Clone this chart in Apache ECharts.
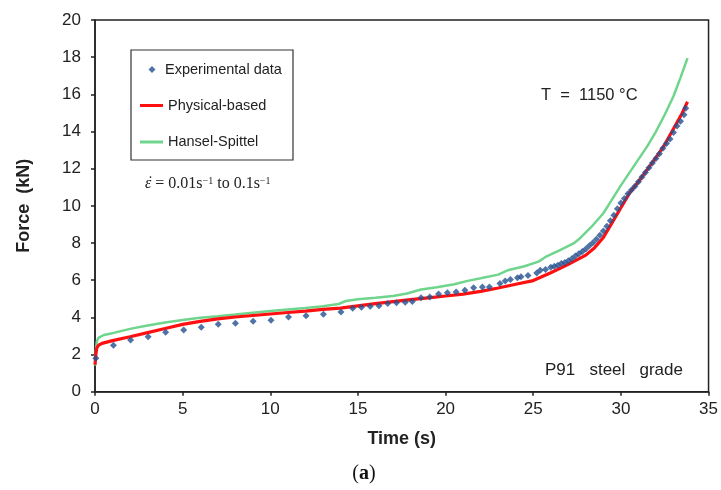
<!DOCTYPE html>
<html>
<head>
<meta charset="utf-8">
<script src="https://cdn.jsdelivr.net/npm/echarts@6/dist/echarts.min.js"></script>
<style>html,body{margin:0;padding:0;background:#fff}#chart{width:721px;height:490px}</style>
</head>
<body>
<div id="chart"></div>
<script>
// Experimental data (time s, force kN)
const expTime = [0.05,1.05,2.03,3.03,4.03,5.06,6.06,7.03,8.01,9.02,10.04,11.04,12.04,13.03,14.03,14.7,15.2,15.7,16.2,16.7,17.2,17.7,18.1,18.6,19.1,19.6,20.1,20.6,21.1,21.6,22.1,22.5,23.1,23.4,23.7,24.1,24.3,24.7,25.2,25.4,25.7,26.0,26.2,26.4,26.6,26.8,27.0,27.2,27.4,27.6,27.8,28.0,28.2,28.4,28.6,28.8,29.0,29.2,29.4,29.6,29.8,30.0,30.2,30.4,30.6,30.8,31.0,31.2,31.4,31.6,31.8,32.0,32.2,32.4,32.6,32.8,33.0,33.2,33.4,33.6,33.7];
const expForce = [1.8,2.5,2.78,2.96,3.2,3.32,3.47,3.63,3.68,3.79,3.84,4.02,4.08,4.17,4.29,4.49,4.54,4.6,4.63,4.74,4.78,4.81,4.85,5.05,5.1,5.26,5.32,5.37,5.46,5.59,5.64,5.64,5.82,5.95,6.04,6.13,6.18,6.25,6.39,6.54,6.57,6.7,6.75,6.8,6.9,6.95,7.05,7.15,7.3,7.42,7.55,7.68,7.85,8.02,8.2,8.42,8.65,8.9,9.2,9.5,9.85,10.15,10.4,10.65,10.85,11.05,11.3,11.55,11.8,12.05,12.3,12.55,12.8,13.1,13.35,13.6,13.95,14.3,14.55,14.9,15.25];

// Physical-based model
const physTime = [0,0.05,0.1,0.2,0.4,1,2,3,4,5,6,7,8,9,10,11,12,13,14,15,16,17,18,19,20,21,22,23,24,25,26,27,28,28.5,29,29.5,30,30.5,31,31.5,32,32.5,33,33.5,33.8];
const physForce = [1.45,2.0,2.35,2.5,2.6,2.75,2.96,3.18,3.4,3.62,3.78,3.92,4.02,4.1,4.18,4.26,4.34,4.43,4.5,4.62,4.74,4.85,4.95,5.05,5.15,5.25,5.4,5.58,5.78,5.98,6.4,6.85,7.35,7.75,8.3,9.1,9.9,10.7,11.3,11.95,12.6,13.3,14.15,15.0,15.6];

// Hansel-Spittel model
const hsTime = [0,0.05,0.1,0.2,0.5,1,2,3,4,5,6,7,8,9,10,11,12,13,13.9,14.3,15,16,17,17.8,18.6,19.5,20.5,21.2,22,23,23.6,24.5,25.3,25.7,26.5,27.3,27.6,28.3,29,29.5,30,30.5,31,31.5,32,32.5,33,33.4,33.8];
const hsForce = [1.4,2.2,2.7,2.9,3.05,3.15,3.38,3.56,3.72,3.86,3.98,4.06,4.15,4.25,4.34,4.42,4.5,4.6,4.72,4.88,4.98,5.06,5.15,5.28,5.5,5.62,5.78,5.95,6.1,6.3,6.55,6.75,7.0,7.25,7.6,7.98,8.2,8.85,9.6,10.35,11.1,11.8,12.5,13.2,14.0,14.9,15.9,16.9,17.95];

const seriesNames = ['Experimental data','Physical-based','Hansel-Spittel'];
const xTicks = {min:0, max:35, step:5};
const yTicks = {min:0, max:20, step:2};

const zip = (a,b) => a.map((v,i) => [v, b[i]]);
const chart = echarts.init(document.getElementById('chart'), null, {renderer:'canvas'});
const txt = '#222';
const legendText = {fontFamily:'Liberation Sans, Arial', fontSize:14.5, color:txt};

chart.setOption({
  animation:false,
  backgroundColor:'#fff',
  grid:{left:95, right:10, top:20, bottom:98.3, show:true, borderColor:'#222', borderWidth:1.5, backgroundColor:'transparent'},
  xAxis:{type:'value', min:xTicks.min, max:xTicks.max, interval:xTicks.step,
    name:'Time (s)', nameLocation:'middle', nameGap:38,
    nameTextStyle:{fontFamily:'Liberation Sans, Arial', fontWeight:'bold', fontSize:18, color:txt},
    axisLine:{show:true, lineStyle:{color:'#222', width:1.5}},
    axisTick:{show:true, inside:false, length:4, lineStyle:{color:'#222', width:1.5}},
    axisLabel:{margin:9, fontFamily:'Liberation Sans, Arial', fontSize:17, color:txt},
    splitLine:{show:false}},
  yAxis:{type:'value', min:yTicks.min, max:yTicks.max, interval:yTicks.step,
    name:'Force  (kN)', nameLocation:'middle', nameGap:62,
    nameTextStyle:{fontFamily:'Liberation Sans, Arial', fontWeight:'bold', fontSize:18, color:txt},
    axisLine:{show:true, lineStyle:{color:'#222', width:1.5}},
    axisTick:{show:true, inside:false, length:4, lineStyle:{color:'#222', width:1.5}},
    axisLabel:{margin:14, fontFamily:'Liberation Sans, Arial', fontSize:17, color:txt},
    splitLine:{show:false}},
  legend:[
    {data:[{name:seriesNames[0], icon:'diamond'}], left:148.5, top:62, padding:0, itemWidth:7, itemHeight:7,
      textStyle:Object.assign({padding:[0,0,0,4.5]}, legendText), selectedMode:false},
    {data:[{name:seriesNames[1], icon:'rect'}], left:140, top:98, padding:0, itemWidth:23, itemHeight:3, textStyle:legendText, selectedMode:false, itemStyle:{borderWidth:0}},
    {data:[{name:seriesNames[2], icon:'rect'}], left:140, top:134.5, padding:0, itemWidth:23, itemHeight:3, textStyle:legendText, selectedMode:false, itemStyle:{borderWidth:0}}
  ],
  graphic:[
    {type:'rect', shape:{x:131, y:50, width:162, height:110}, style:{fill:'none', stroke:'#333', lineWidth:1.2}, z:1},
    {type:'text', x:145, y:184, style:{text:'{e|ε} = 0.01s{s|−1} to 0.1s{s|−1}', font:'16px "Liberation Serif", serif', fill:txt, verticalAlign:'middle',
      rich:{e:{fontFamily:'Liberation Serif', fontStyle:'italic', fontSize:16}, s:{fontFamily:'Liberation Serif', fontSize:10, verticalAlign:'top'}}}},
    {type:'text', x:150.5, y:183, style:{text:'˙', font:'16px "Liberation Serif", serif', fill:txt, align:'center', verticalAlign:'middle'}},
    {type:'text', x:541, y:95, style:{text:'T  =  1150 °C', font:'16.5px "Liberation Sans", Arial', fill:txt, verticalAlign:'middle'}},
    {type:'text', x:545, y:370, style:{text:'P91   steel   grade', font:'17px "Liberation Sans", Arial', fill:txt, verticalAlign:'middle'}},
    {type:'text', x:364, y:474, style:{text:'{n|(}{b|a}{n|)}', align:'center', verticalAlign:'middle', fill:'#111',
      rich:{n:{fontFamily:'Liberation Serif', fontSize:20}, b:{fontFamily:'Liberation Serif', fontSize:20, fontWeight:'bold'}}}}
  ],
  series:[
    {name:seriesNames[2], type:'line', data:zip(hsTime, hsForce), showSymbol:false, symbol:'none', smooth:false,
      lineStyle:{color:'#6fd58c', width:2.5}, itemStyle:{color:'#6fd58c'}, z:2},
    {name:seriesNames[1], type:'line', data:zip(physTime, physForce), showSymbol:false, symbol:'none', smooth:false,
      lineStyle:{color:'#ff1010', width:3.2}, itemStyle:{color:'#ff1010'}, z:3},
    {name:seriesNames[0], type:'scatter', data:zip(expTime, expForce), symbol:'diamond', symbolSize:7,
      itemStyle:{color:'#24508f'}, z:4}
  ]
});
</script>
</body>
</html>
